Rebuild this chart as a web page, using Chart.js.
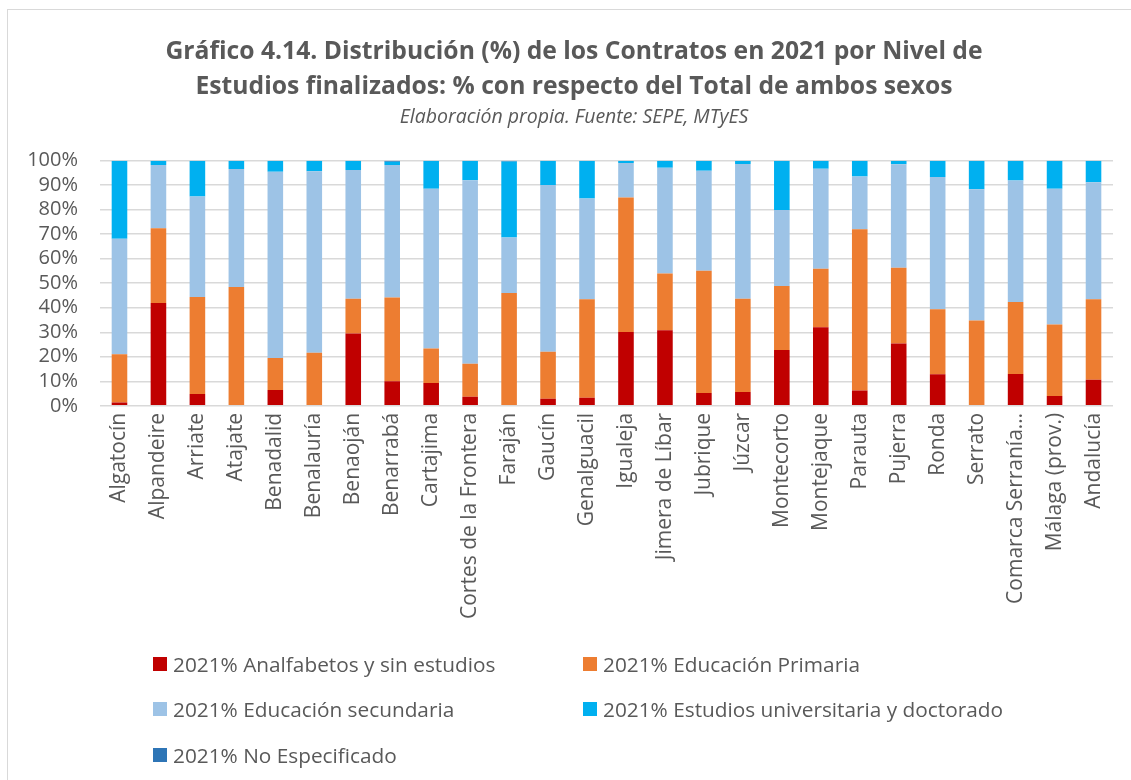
<!DOCTYPE html>
<html lang="es">
<head>
<meta charset="utf-8">
<title>Distribución de los Contratos 2021 por Nivel de Estudios</title>
<script src="https://cdn.jsdelivr.net/npm/chart.js@4/dist/chart.umd.min.js"></script>
<style>
  html, body { margin: 0; padding: 0; background: #ffffff; }
  body { width: 1131px; height: 780px; position: relative; overflow: hidden; font-family: "Open Sans", Lato, sans-serif; }
  #frame { position: absolute; left: 7px; top: 9px; width: 1140px; height: 800px; border: 1.5px solid #d9d9d9; box-sizing: border-box; }
  #wrap { position: absolute; left: 0; top: 0; width: 1131px; height: 780px; }
  #legend { position: absolute; left: 153px; top: 641px; display: grid; grid-template-columns: 430px 430px; row-gap: 0; }
  .item { display: flex; align-items: center; height: 45.5px; font-size: 20.8px; color: #595959; white-space: nowrap; }
  .sw { width: 14px; height: 14px; margin-right: 6px; flex: none; }
</style>
</head>
<body>
<div id="frame"></div>
<div id="wrap"><canvas id="chart" width="1131" height="780"></canvas></div>
<div id="legend"></div>
<script>
// Municipios y ámbitos de referencia
const categories = [
  'Algatocín', 'Alpandeire', 'Arriate', 'Atajate', 'Benadalid', 'Benalauría',
  'Benaoján', 'Benarrabá', 'Cartajima', 'Cortes de la Frontera', 'Faraján',
  'Gaucín', 'Genalguacil', 'Igualeja', 'Jimera de Líbar', 'Jubrique', 'Júzcar',
  'Montecorto', 'Montejaque', 'Parauta', 'Pujerra', 'Ronda', 'Serrato',
  'Comarca Serranía…', 'Málaga (prov.)', 'Andalucía'
];

// Porcentaje de contratos por nivel de estudios (2021)
const analfabetos = [1.4, 41.9, 4.8, 0.0, 6.5, 0.0, 29.5, 10.0, 9.3, 3.7, 0.0, 2.9, 3.3,
  30.1, 30.8, 5.2, 5.6, 22.8, 32.0, 6.3, 25.4, 12.9, 0.0, 13.0, 4.0, 10.6];
const primaria = [19.6, 30.5, 39.6, 48.5, 13.0, 21.7, 14.2, 34.2, 14.1, 13.5, 46.0, 19.2, 40.2,
  54.9, 23.2, 49.9, 38.1, 26.1, 23.9, 65.7, 30.9, 26.5, 34.8, 29.3, 29.2, 32.9];
const secundaria = [47.1, 25.8, 41.0, 48.1, 76.0, 74.0, 52.5, 54.0, 65.1, 74.8, 22.7, 68.0, 41.1,
  14.0, 43.1, 40.8, 54.9, 31.0, 40.8, 21.5, 42.2, 53.9, 53.5, 49.6, 55.3, 47.7];
const universitarios = [31.9, 1.8, 14.6, 3.4, 4.5, 4.3, 3.8, 1.3, 11.5, 8.0, 31.0, 9.9, 15.4,
  1.0, 2.9, 4.1, 1.4, 20.1, 3.3, 6.5, 1.5, 6.7, 11.7, 8.1, 11.5, 8.8];
const noEspecificado = [0, 0, 0, 0, 0, 0, 0, 0.5, 0, 0, 0.3, 0, 0,
  0, 0, 0, 0, 0, 0, 0, 0, 0, 0, 0, 0, 0];

// Marcas del eje de valores
const yTicks = [0, 10, 20, 30, 40, 50, 60, 70, 80, 90, 100];

const seriesNames = [
  '2021% Analfabetos y sin estudios',
  '2021% Educación Primaria',
  '2021% Educación secundaria',
  '2021% Estudios universitaria y doctorado',
  '2021% No Especificado'
];
const seriesColors = ['#C00000', '#ED7D31', '#9DC3E6', '#00B0F0', '#2E75B6'];
const seriesData = [analfabetos, primaria, secundaria, universitarios, noEspecificado];

const textColor = '#595959';
const baseFont = '"Open Sans", Lato, sans-serif';

const datasets = seriesData.map((d, i) => ({
  label: seriesNames[i],
  data: d,
  backgroundColor: seriesColors[i],
  borderWidth: 0,
  barPercentage: 0.8,
  categoryPercentage: 0.5
}));

// El eje Y ocupa menos ancho en el reparto del título; se amplía tras el layout
// para que las etiquetas de porcentaje no queden recortadas.
const widenYAxis = {
  id: 'widenYAxis',
  afterLayout(chart) {
    const y = chart.scales.y;
    y.left = y.right - 80;
  }
};

new Chart(document.getElementById('chart'), {
  type: 'bar',
  data: { labels: categories, datasets },
  plugins: [widenYAxis],
  options: {
    responsive: false,
    animation: false,
    layout: { padding: { top: 34, left: 35, right: 18, bottom: 154 } },
    plugins: {
      legend: { display: false },
      tooltip: { enabled: false },
      title: {
        display: true,
        text: ['Gráfico 4.14. Distribución (%) de los Contratos en 2021 por Nivel de',
               'Estudios finalizados: % con respecto del Total de ambos sexos'],
        color: textColor,
        font: { family: baseFont, size: 24.7, weight: 'bold', lineHeight: 1.43 },
        padding: { top: 0, bottom: 0 }
      },
      subtitle: {
        display: true,
        text: 'Elaboración propia. Fuente: SEPE, MTyES',
        color: textColor,
        font: { family: baseFont, size: 19.5, style: 'italic', lineHeight: 1.2 },
        padding: { top: 0.8, bottom: 31.8 }
      }
    },
    scales: {
      x: {
        stacked: true,
        grid: { display: false, drawTicks: false },
        border: { display: false },
        ticks: {
          color: textColor,
          font: { family: baseFont, size: 21 },
          maxRotation: 90,
          minRotation: 90,
          autoSkip: false,
          padding: 7
        }
      },
      y: {
        stacked: true,
        min: 0,
        max: 100,
        afterBuildTicks: (axis) => { axis.ticks = yTicks.map(v => ({ value: v })); },
        afterFit: (axis) => { axis.width = 65; },
        grid: { color: '#d9d9d9', lineWidth: 1.5, drawTicks: false },
        border: { display: false },
        ticks: {
          color: textColor,
          font: { family: baseFont, size: 20 },
          padding: 22,
          autoSkip: false,
          callback: (v) => v + '%'
        }
      }
    }
  }
});

// Leyenda en dos columnas
const legend = document.getElementById('legend');
seriesNames.forEach((name, i) => {
  const item = document.createElement('div');
  item.className = 'item';
  const sw = document.createElement('span');
  sw.className = 'sw';
  sw.style.background = seriesColors[i];
  const label = document.createElement('span');
  label.textContent = name;
  item.appendChild(sw);
  item.appendChild(label);
  legend.appendChild(item);
});
</script>
</body>
</html>
